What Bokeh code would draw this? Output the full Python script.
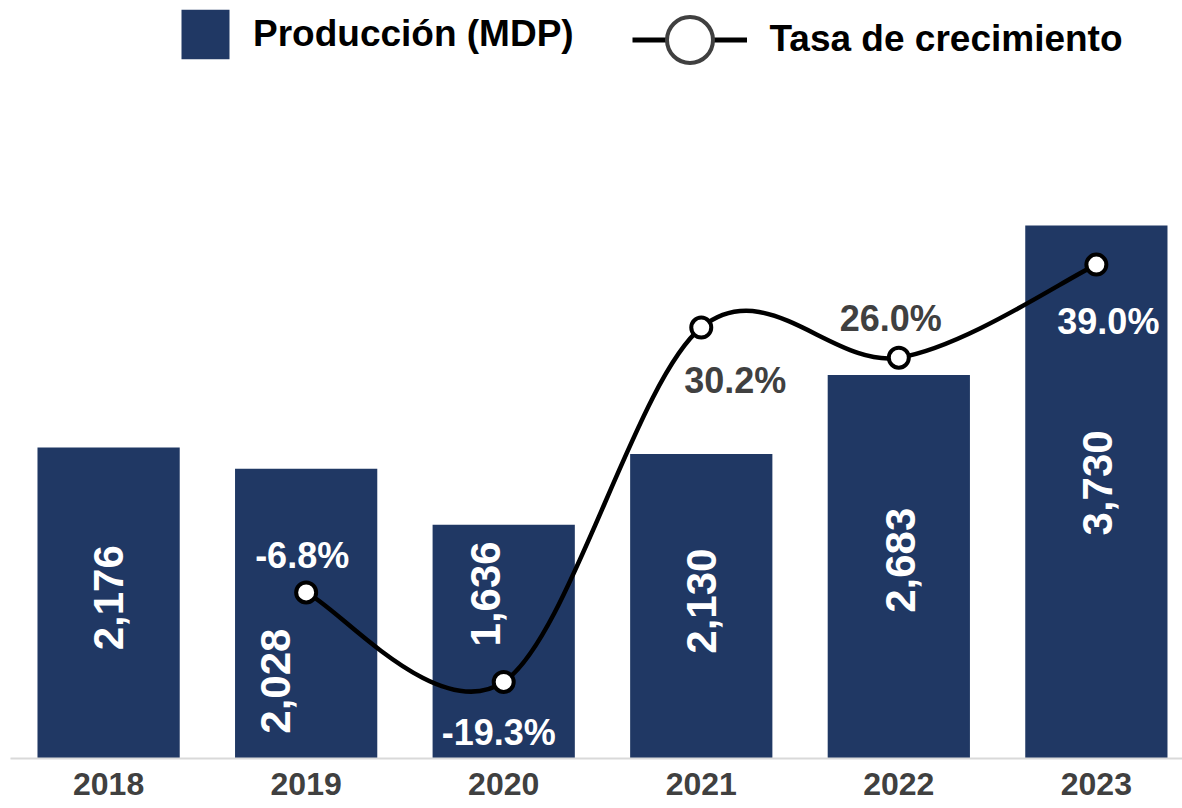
import math
from bokeh.plotting import figure
from bokeh.models import Range1d, FixedTicker, Legend, LegendItem, ColumnDataSource
from bokeh.core.properties import value
from bokeh.embed import file_html
from bokeh.resources import INLINE

# ---- data ----
years = ["2018", "2019", "2020", "2021", "2022", "2023"]
production = [2176, 2028, 1636, 2130, 2683, 3730]
growth_years = ["2019", "2020", "2021", "2022", "2023"]
growth = [-6.8, -19.3, 30.2, 26.0, 39.0]

# ---- styles ----
NAVY = "#203864"
GRAY = "#404040"
FONT = "Liberation Sans"

# label placement (style, in screen pixels / fractions of bar height)
bar_label_frac = [0.517, 0.267, 0.704, 0.517, 0.517, 0.517]
bar_label_dx = [0, -31, -18, 0, 2, 1]
pct_dx = [-4, -5, 34, -8, 12]
pct_dy = [-37, 51, 53, -39, 57]
pct_colors = ["white", "white", GRAY, GRAY, "white"]

xs = list(range(len(years)))
gx = [years.index(y) for y in growth_years]

p = figure(width=1182, height=808,
           x_range=Range1d(-0.4966, 5.436), y_range=Range1d(0, 5304),
           output_backend="svg", toolbar_location=None,
           y_axis_location=None, x_axis_location="below",
           min_border_left=10, min_border_right=0, min_border_top=0,
           min_border_bottom=50, outline_line_color=None)
p.extra_y_ranges = {"pct": Range1d(-30, 75.9)}
p.grid.visible = False
p.background_fill_color = "white"

ax = p.xaxis[0]
ax.ticker = FixedTicker(ticks=xs)
ax.major_label_overrides = {i: y for i, y in enumerate(years)}
ax.axis_line_color = "#D9D9D9"
ax.axis_line_width = 2
ax.major_tick_line_color = None
ax.minor_tick_line_color = None
ax.major_tick_out = 0
ax.major_tick_in = 0
ax.major_label_standoff = 14
ax.major_label_text_font = FONT
ax.major_label_text_font_size = "32px"
ax.major_label_text_font_style = "bold"
ax.major_label_text_color = GRAY

# bars
p.vbar(x=xs, top=production, bottom=0, width=0.72, fill_color=NAVY, line_color=None)

# smooth growth line (Catmull-Rom -> cubic Bezier control points from data)
n = len(gx)
x0s, y0s, x1s, y1s, cx0s, cy0s, cx1s, cy1s = [], [], [], [], [], [], [], []
for i in range(n - 1):
    a = i - 1 if i > 0 else i
    d = i + 2 if i + 2 < n else i + 1
    x0s.append(gx[i]); y0s.append(growth[i])
    x1s.append(gx[i + 1]); y1s.append(growth[i + 1])
    cx0s.append(gx[i] + (gx[i + 1] - gx[a]) / 6.0)
    cy0s.append(growth[i] + (growth[i + 1] - growth[a]) / 6.0)
    cx1s.append(gx[i + 1] - (gx[d] - gx[i]) / 6.0)
    cy1s.append(growth[i + 1] - (growth[d] - growth[i]) / 6.0)
p.bezier(x0=x0s, y0=y0s, x1=x1s, y1=y1s, cx0=cx0s, cy0=cy0s, cx1=cx1s, cy1=cy1s,
         line_color="black", line_width=4.5, line_cap="round", y_range_name="pct")

p.scatter(x=gx, y=growth, marker="circle", size=20, fill_color="white",
          line_color="black", line_width=4, y_range_name="pct")

# bar value labels
bar_src = ColumnDataSource(dict(
    x=xs,
    y=[v * f for v, f in zip(production, bar_label_frac)],
    t=[f"{v:,}" for v in production],
    dx=bar_label_dx,
))
p.text(x="x", y="y", text="t", x_offset="dx", source=bar_src, angle=math.pi / 2,
       text_align="center", text_baseline="middle", text_color="white",
       text_font=value(FONT), text_font_size="42px", text_font_style="bold")

# growth labels
pct_src = ColumnDataSource(dict(
    x=gx, y=growth, t=[f"{g:.1f}%" for g in growth],
    dx=pct_dx, dy=pct_dy, c=pct_colors,
))
p.text(x="x", y="y", text="t", x_offset="dx", y_offset="dy", text_color="c",
       source=pct_src, y_range_name="pct",
       text_align="center", text_baseline="middle",
       text_font=value(FONT), text_font_size="36px", text_font_style="bold")

# legend-only renderers (placed outside the visible x range)
off = [-100, -99]
leg_bar = p.vbar(x=off[:1], top=[1], width=0.72, fill_color=NAVY, line_color=None)
leg_line = p.line(x=off, y=[0, 0], line_color="black", line_width=5)
leg_mark = p.scatter(x=off[:1], y=[0], marker="circle", fill_color="white",
                     line_color=GRAY, line_width=4)

common = dict(padding=0, margin=0, border_line_color=None, background_fill_alpha=0,
              label_text_font=FONT, label_text_font_size="37px",
              label_text_font_style="bold", label_text_color="black",
              spacing=0)
leg1 = Legend(items=[LegendItem(label="Producción (MDP)", renderers=[leg_bar])],
              location=(165, 693), glyph_width=60, glyph_height=62,
              label_standoff=18, **common)
leg2 = Legend(items=[LegendItem(label="Tasa de crecimiento", renderers=[leg_line, leg_mark])],
              location=(621.5, 661.5), glyph_width=115, glyph_height=115,
              label_standoff=23, **common)
p.add_layout(leg1)
p.add_layout(leg2)

open("out.html", "w").write(file_html(p, INLINE))
